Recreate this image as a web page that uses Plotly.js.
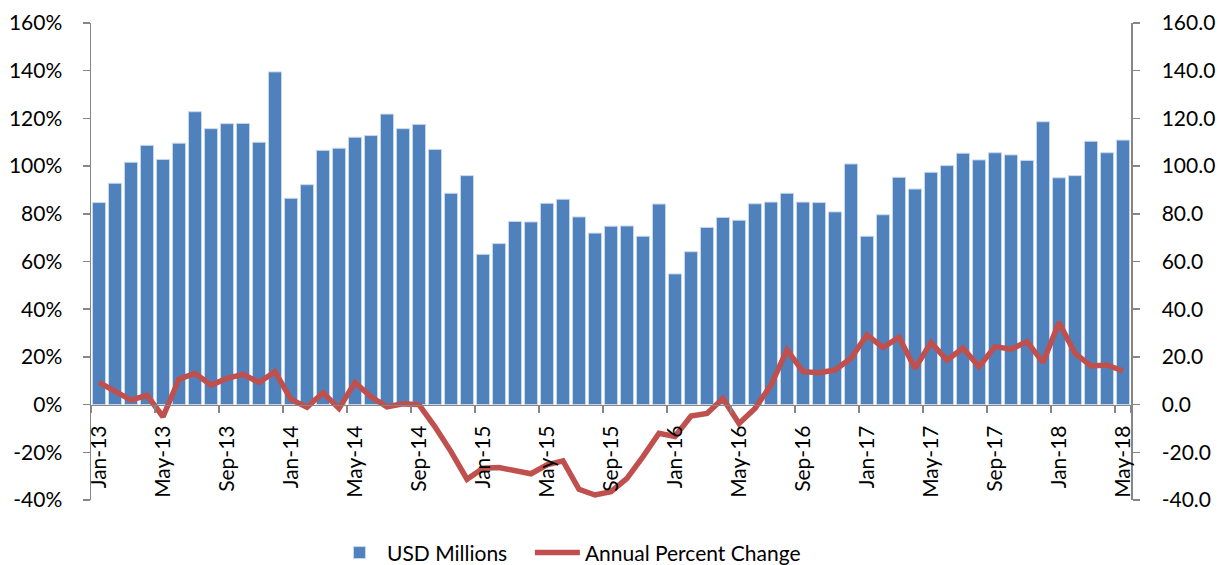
<!DOCTYPE html>
<html>
<head>
<meta charset="utf-8">
<script src="https://cdn.plot.ly/plotly-3.0.1.min.js"></script>
<style>html,body{margin:0;padding:0;background:#fff;}#chart{width:1225px;height:565px;}</style>
</head>
<body>
<div id="chart"></div>
<script>
const months = [
 "Jan-13","Feb-13","Mar-13","Apr-13","May-13","Jun-13","Jul-13","Aug-13","Sep-13","Oct-13","Nov-13","Dec-13",
 "Jan-14","Feb-14","Mar-14","Apr-14","May-14","Jun-14","Jul-14","Aug-14","Sep-14","Oct-14","Nov-14","Dec-14",
 "Jan-15","Feb-15","Mar-15","Apr-15","May-15","Jun-15","Jul-15","Aug-15","Sep-15","Oct-15","Nov-15","Dec-15",
 "Jan-16","Feb-16","Mar-16","Apr-16","May-16","Jun-16","Jul-16","Aug-16","Sep-16","Oct-16","Nov-16","Dec-16",
 "Jan-17","Feb-17","Mar-17","Apr-17","May-17","Jun-17","Jul-17","Aug-17","Sep-17","Oct-17","Nov-17","Dec-17",
 "Jan-18","Feb-18","Mar-18","Apr-18","May-18"
];
const usdMillions = [
 84.7, 92.8, 101.6, 108.7, 102.8, 109.6, 122.8, 115.7, 117.8, 117.9, 110.0, 139.5,
 86.5, 92.2, 106.6, 107.5, 112.1, 112.8, 121.8, 115.7, 117.5, 107.0, 88.6, 96.0,
 63.0, 67.5, 76.8, 76.6, 84.4, 86.1, 78.7, 71.9, 74.8, 74.9, 70.6, 84.1,
 54.8, 64.1, 74.3, 78.5, 77.3, 84.2, 84.9, 88.6, 84.9, 84.7, 80.8, 100.9,
 70.6, 79.6, 95.3, 90.4, 97.4, 100.2, 105.4, 102.6, 105.6, 104.7, 102.4, 118.6,
 95.1, 96.0, 110.4, 105.6, 110.9
];
const annualPctChange = [
 9.3, 5.4, 1.9, 3.9, -5.1, 10.7, 13.1, 8.2, 11.0, 12.7, 9.3, 13.8,
 2.2, -1.1, 5.0, -1.6, 9.3, 3.3, -0.9, 0.3, 0.0, -9.3, -19.7, -31.3,
 -26.7, -26.4, -27.7, -29.0, -25.3, -23.6, -35.5, -37.9, -36.5, -30.9, -21.8, -12.0,
 -13.4, -4.8, -3.7, 2.6, -7.9, -1.6, 8.2, 22.9, 13.8, 13.4, 14.5, 19.4,
 29.2, 24.0, 28.2, 15.2, 26.0, 18.7, 23.6, 15.9, 24.3, 23.2, 26.4, 17.7,
 34.4, 21.5, 16.2, 16.6, 14.1
];
const tickLabels = ["Jan-13","May-13","Sep-13","Jan-14","May-14","Sep-14","Jan-15","May-15","Sep-15",
 "Jan-16","May-16","Sep-16","Jan-17","May-17","Sep-17","Jan-18","May-18"];
const yTicks = [-40,-20,0,20,40,60,80,100,120,140,160];

const FONT = "Lato, 'Open Sans', sans-serif";
const axisColor = "#868686";

const traces = [
 {
  type: "bar", name: "USD Millions", x: months, y: usdMillions, yaxis: "y", legend: "legend",
  marker: {color: "#4F81BD", line: {color: "#c9d8ec", width: 1}}
 },
 {
  type: "scatter", mode: "lines", name: "Annual Percent Change", x: months, y: annualPctChange, yaxis: "y2",
  legend: "legend2",
  line: {color: "#C0504D", width: 5.5}
 }
];

const legendFont = {family: FONT, size: 21, color: "#000"};

const layout = {
 width: 1225, height: 565,
 margin: {l: 91, r: 94, t: 23, b: 65, autoexpand: false},
 paper_bgcolor: "#fff", plot_bgcolor: "#fff",
 font: {family: FONT, size: 21, color: "#000"},
 bargap: 0.18,
 showlegend: true,
 legend: {orientation: "h", x: 0.2317, xanchor: "left", y: -0.111, yanchor: "middle",
  font: legendFont, itemwidth: 45},
 legend2: {orientation: "h", x: 0.422, xanchor: "left", y: -0.111, yanchor: "middle",
  font: legendFont, itemwidth: 45},
 xaxis: {
  type: "category", range: [-0.5, 64.5], anchor: "free", position: 0.2, automargin: false,
  tickmode: "array", tickvals: tickLabels, ticktext: tickLabels, tickangle: -90,
  tickson: "boundaries", ticks: "outside", ticklen: 7, tickcolor: axisColor, tickwidth: 1.5,
  showline: true, linecolor: axisColor, linewidth: 1.5, showgrid: false, zeroline: false,
  ticklabelstandoff: 11,
  tickfont: {family: FONT, size: 21, color: "#000"}
 },
 yaxis: {
  side: "right", range: [-40, 160], tickmode: "array", tickvals: yTicks, automargin: false,
  ticktext: yTicks.map(v => v.toFixed(1)),
  ticks: "outside", ticklen: 7, tickcolor: axisColor, tickwidth: 1.5,
  showline: true, linecolor: axisColor, linewidth: 1.5, showgrid: false, zeroline: false,
  ticklabelstandoff: 18,
  tickfont: {family: FONT, size: 21, color: "#000"}
 },
 yaxis2: {
  overlaying: "y", side: "left", range: [-40, 160], tickmode: "array", tickvals: yTicks, automargin: false,
  ticktext: yTicks.map(v => v + "%"),
  ticks: "outside", ticklen: 7, tickcolor: axisColor, tickwidth: 1.5,
  showline: true, linecolor: axisColor, linewidth: 1.5, showgrid: false, zeroline: false,
  ticklabelstandoff: 16,
  tickfont: {family: FONT, size: 21, color: "#000"}
 }
};

Plotly.newPlot("chart", traces, layout, {displayModeBar: false, staticPlot: true});
</script>
</body>
</html>
